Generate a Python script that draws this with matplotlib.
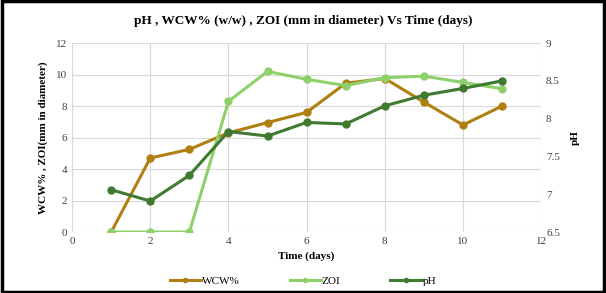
import matplotlib
matplotlib.use("Agg")
import matplotlib.pyplot as plt
from matplotlib.patches import Rectangle

plt.rcParams["font.family"] = ["Liberation Serif", "DejaVu Serif"]

# data
days = [1, 2, 3, 4, 5, 6, 7, 8, 9, 10, 11]
wcw = [0, 4.7, 5.25, 6.3, 6.95, 7.6, 9.45, 9.75, 8.25, 6.8, 8.0]
zoi = [0, 0, 0, 8.3, 10.2, 9.7, 9.3, 9.8, 9.9, 9.5, 9.1]
ph = [7.06, 6.91, 7.25, 7.83, 7.77, 7.95, 7.93, 8.17, 8.31, 8.40, 8.50]

c_wcw = "#B07F12"
c_zoi = "#8ED16B"
c_ph = "#3F7A30"
grid_c = "#D9D9D9"
tick_c = "#404040"

fig = plt.figure(figsize=(6.06, 2.93), dpi=100)
ax = fig.add_axes([0.119, 0.208, 0.774, 0.645])
ax2 = ax.twinx()

l1, = ax.plot(days, wcw, color=c_wcw, lw=2.2, marker="o", ms=5, label="WCW%")
l2, = ax.plot(days, zoi, color=c_zoi, lw=2.2, marker="o", ms=5, label="ZOI")
l3, = ax2.plot(days, ph, color=c_ph, lw=2.2, marker="o", ms=5, label="pH")

ax.set_xlim(0, 12)
ax.set_ylim(0, 12)
ax.set_xticks(range(0, 13, 2))
ax.set_yticks(range(0, 13, 2))
ax2.set_ylim(6.5, 9)
ax2.set_yticks([6.5, 7, 7.5, 8, 8.5, 9])
ax2.set_yticklabels(["6.5", "7", "7.5", "8", "8.5", "9"])

ax.grid(True, color=grid_c, lw=0.8)
ax.set_axisbelow(True)
for a in (ax, ax2):
    for s in a.spines.values():
        s.set_visible(False)
    a.tick_params(length=0, labelsize=8, colors=tick_c)

ax.set_xlabel("Time (days)", fontsize=8, fontweight="bold", labelpad=4)
ax.set_ylabel("WCW% , ZOI(mm in diameter)", fontsize=8, fontweight="bold", labelpad=6)
ax2.set_ylabel("pH", fontsize=8, fontweight="bold", labelpad=8)
fig.suptitle("pH , WCW% (w/w) , ZOI (mm in diameter) Vs Time (days)",
             fontsize=9.5, fontweight="bold", y=0.95)

fig.legend(handles=[l1, l2, l3], loc="lower center", ncol=3, frameon=False,
           fontsize=8, bbox_to_anchor=(0.5, -0.01), columnspacing=4.5,
           handlelength=2.8, handletextpad=0.1, markerscale=0.6)

fig.add_artist(Rectangle((0.003, 0.005), 0.994, 0.99, transform=fig.transFigure,
                         fill=False, edgecolor="black", lw=2.5))

fig.savefig("out.png", dpi=100)
